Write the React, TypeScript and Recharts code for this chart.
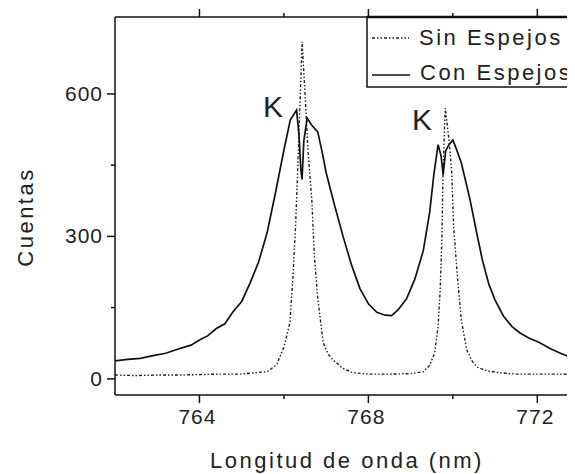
import { Line, LineChart, XAxis, YAxis } from "recharts";

// Con Espejos (solid line)
const conX = [
  762.0, 762.3, 762.6, 762.9, 763.2, 763.5, 763.8, 764.0, 764.2, 764.4, 764.6, 764.8,
  765.0, 765.2, 765.4, 765.6, 765.8, 766.0, 766.15, 766.3, 766.36, 766.4, 766.43, 766.47,
  766.55, 766.65, 766.8, 766.9, 767.0, 767.2, 767.4, 767.6, 767.8, 768.0, 768.2, 768.4,
  768.55, 768.7, 768.9, 769.1, 769.3, 769.45, 769.55, 769.65, 769.72, 769.77, 769.83, 769.9,
  770.0, 770.1, 770.2, 770.4, 770.57, 770.7, 770.85, 771.0, 771.2, 771.4, 771.6, 771.8,
  772.06, 772.3, 772.55, 772.77, 773.0, 773.2,
];
const conY = [
  38, 41, 43, 49, 54, 63, 71, 82, 91, 106, 116, 142,
  163, 202, 246, 307, 392, 482, 545, 566, 510, 440, 420, 500,
  549, 535, 520, 480, 434, 365, 300, 240, 190, 158, 140, 134,
  133, 145, 168, 210, 270, 350, 430, 493, 470, 430, 480, 492,
  503, 480, 455, 380, 305, 250, 200, 166, 132, 110, 96, 86,
  76, 64, 54, 46, 40, 37,
];

// Sin Espejos (dotted line)
const sinX = [
  762.0, 762.5, 763.0, 763.5, 764.0, 764.5, 765.0, 765.3, 765.6, 765.83, 766.0, 766.14,
  766.22, 766.28, 766.35, 766.43, 766.5, 766.57, 766.66, 766.72, 766.8, 766.93, 767.05, 767.16,
  767.4, 767.63, 768.0, 768.5, 769.0, 769.3, 769.45, 769.57, 769.65, 769.7, 769.74, 769.77,
  769.82, 769.9, 769.97, 770.02, 770.1, 770.2, 770.33, 770.45, 770.57, 770.8, 771.1, 771.5,
  772.0, 772.5, 773.0, 773.2,
];
const sinY = [
  8, 7, 8, 8, 9, 10, 10, 13, 15, 30, 67, 118,
  223, 330, 500, 710, 600, 480, 377, 260, 170, 76, 52, 40,
  22, 13, 10, 10, 11, 15, 28, 55, 110, 187, 293, 446,
  570, 510, 440, 320, 223, 124, 61, 38, 25, 17, 13, 10,
  10, 10, 9, 9,
];

const xTicks = [764, 766, 768, 770, 772];
const xLabeled = [764, 768, 772];
const yTicks = [0, 150, 300, 450, 600];
const yLabeled = [0, 300, 600];

const conData = conX.map((x, i) => ({ x, y: conY[i] }));
const sinData = sinX.map((x, i) => ({ x, y: sinY[i] }));

const font = "'Liberation Sans', Arial, sans-serif";
const ink = "#222";

function BottomTick(props: any) {
  const { x, y, payload } = props;
  const major = xLabeled.includes(payload.value);
  return (
    <g>
      <line x1={x} x2={x} y1={y} y2={y + (major ? 8 : 4)} stroke="#111" strokeWidth={1.5} />
      {major ? (
        <text x={x - 2} y={y + 29} textAnchor="middle" fontFamily={font} fontSize={21} letterSpacing={1} fill={ink}>
          {payload.value}
        </text>
      ) : null}
    </g>
  );
}

function TopTick(props: any) {
  const { x, y, payload } = props;
  const major = xLabeled.includes(payload.value);
  return <line x1={x} x2={x} y1={y} y2={y - (major ? 8 : 4)} stroke="#111" strokeWidth={1.5} />;
}

function LeftTick(props: any) {
  const { x, y, payload } = props;
  const major = yLabeled.includes(payload.value);
  return (
    <g>
      <line x1={x} x2={x - (major ? 8 : 4)} y1={y} y2={y} stroke="#111" strokeWidth={1.5} />
      {major ? (
        <text x={x - 12} y={y + 7} textAnchor="end" fontFamily={font} fontSize={21} letterSpacing={1} fill={ink}>
          {payload.value}
        </text>
      ) : null}
    </g>
  );
}

export default function App() {
  return (
    <div style={{ position: "relative", margin: "-8px 0 0 -8px", width: 575, height: 474, overflow: "hidden", background: "#fff" }}>
      <LineChart width={608} height={474} margin={{ top: 7, right: 20, left: 55, bottom: 49 }}>
        <XAxis
          xAxisId="bottom"
          dataKey="x"
          type="number"
          domain={[762, 773.2]}
          ticks={xTicks}
          interval={0}
          tick={BottomTick}
          tickSize={0}
          tickMargin={0}
          tickLine={false}
          height={30}
          axisLine={{ stroke: "#111", strokeWidth: 1.5 }}
          allowDataOverflow
        />
        <XAxis
          xAxisId="top"
          orientation="top"
          dataKey="x"
          type="number"
          domain={[762, 773.2]}
          ticks={xTicks}
          interval={0}
          tick={TopTick}
          tickSize={0}
          tickMargin={0}
          tickLine={false}
          height={10}
          axisLine={{ stroke: "#111", strokeWidth: 1.5 }}
          allowDataOverflow
        />
        <YAxis
          type="number"
          domain={[-34, 762]}
          ticks={yTicks}
          interval={0}
          tick={LeftTick}
          tickSize={0}
          tickMargin={0}
          tickLine={false}
          width={60}
          axisLine={{ stroke: "#111", strokeWidth: 1.5 }}
          allowDataOverflow
        />
        <Line
          xAxisId="bottom"
          data={sinData}
          dataKey="y"
          type="linear"
          stroke="#222"
          strokeWidth={1.4}
          strokeDasharray="3 2 1.5 2 1.5 2"
          dot={false}
          isAnimationActive={false}
        />
        <Line
          xAxisId="bottom"
          data={conData}
          dataKey="y"
          type="linear"
          stroke="#111"
          strokeWidth={1.7}
          dot={false}
          isAnimationActive={false}
        />
      </LineChart>
      <svg width={575} height={474} style={{ position: "absolute", left: 0, top: 0, pointerEvents: "none" }}>
        <rect x={367} y={17} width={300} height={70} fill="#fff" stroke="#111" strokeWidth={1.5} />
        <line x1={367} x2={575} y1={17} y2={17} stroke="#111" strokeWidth={2.5} />
        <line x1={372} x2={409} y1={38} y2={38} stroke="#222" strokeWidth={1.4} strokeDasharray="3 2 1.5 2 1.5 2" />
        <line x1={372} x2={410} y1={75} y2={75} stroke="#111" strokeWidth={1.7} />
        <text x={419} y={45} fontFamily={font} fontSize={22} letterSpacing={2.5} fill={ink}>Sin Espejos</text>
        <text x={420} y={80} fontFamily={font} fontSize={22} letterSpacing={2.5} fill={ink}>Con Espejos</text>
        <text x={263} y={117} fontFamily={font} fontSize={30} fill={ink}>K</text>
        <text x={412} y={130} fontFamily={font} fontSize={30} fill={ink}>K</text>
        <text x={347} y={468} textAnchor="middle" fontFamily={font} fontSize={22} letterSpacing={2.5} fill={ink}>
          Longitud de onda (nm)
        </text>
        <text
          x={33}
          y={217}
          textAnchor="middle"
          transform="rotate(-90 33 217)"
          fontFamily={font}
          fontSize={22}
          letterSpacing={2.5}
          fill={ink}
        >
          Cuentas
        </text>
      </svg>
    </div>
  );
}
